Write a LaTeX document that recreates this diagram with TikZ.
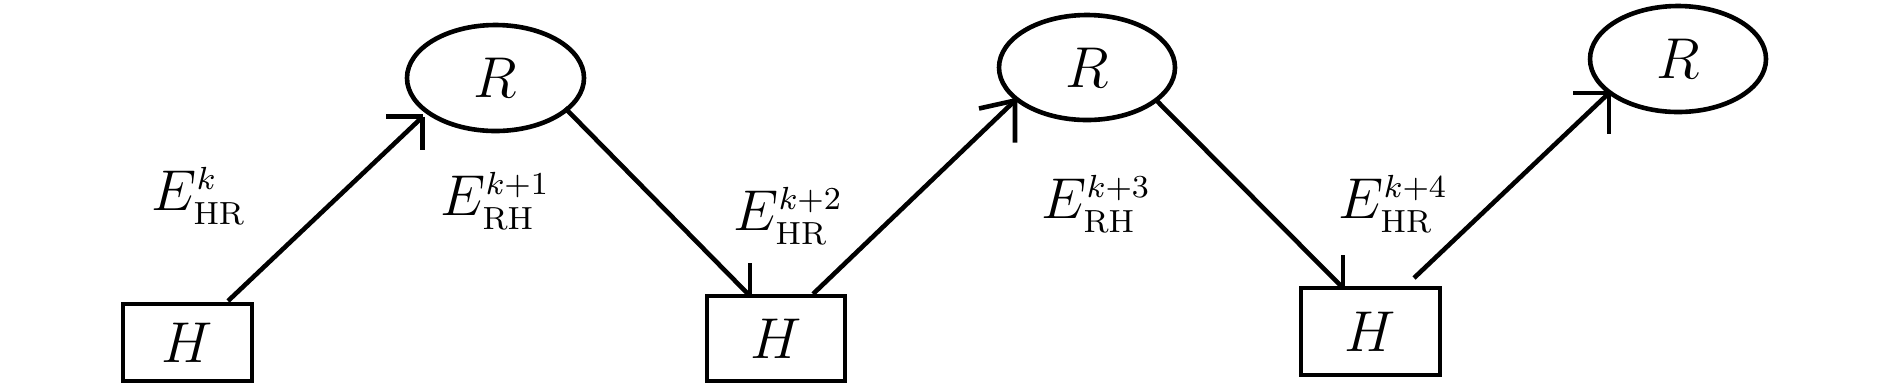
\documentclass[tikz,border=0pt]{standalone}
\usetikzlibrary{shapes.geometric,calc}
\DeclareMathSizes{14.6}{14.6}{8}{6}
\begin{document}
\begin{tikzpicture}[x=0.25pt,y=-0.25pt,
  every node/.style={font=\fontsize{14.6}{17}\selectfont},
  hbox/.style={draw,rectangle,line width=1.15pt,inner sep=0pt},
  rnode/.style={draw,ellipse,line width=1.15pt,inner sep=0pt,minimum width=44.25pt,minimum height=26.5pt},
  conn/.style={line width=1.15pt},
  lab/.style={inner sep=0pt,anchor=base west}]
\useasboundingbox (0,0) rectangle (1890,388);
% H nodes
\node[hbox,minimum width=32.25pt,minimum height=19.25pt] (H1) at (187.5,342.5) {$H$};
\node[hbox,minimum width=34.5pt,minimum height=21.25pt] (H2) at (776,338.5) {$H$};
\node[hbox,minimum width=34.75pt,minimum height=21.75pt] (H3) at (1370.5,331.5) {$H$};
% R nodes
\node[rnode] (R1) at (495.5,78) {$R$};
\node[rnode,minimum width=44pt,minimum height=26.25pt] (R2) at (1087,67.5) {$R$};
\node[rnode,minimum width=44pt] (R3) at (1678,59) {$R$};
% labels
\node[lab] (L1) at (151,210) {$E^{k}_{\mathrm{HR}}$};
\node[lab] (L2) at (440,215) {$E^{k+1}_{\mathrm{RH}}$};
\node[lab] (L3) at (733,230) {$E^{k+2}_{\mathrm{HR}}$};
\node[lab] (L4) at (1041,218) {$E^{k+3}_{\mathrm{RH}}$};
\node[lab] (L5) at (1338,218) {$E^{k+4}_{\mathrm{HR}}$};
% connectors
\draw[conn] ([shift={(40.5,-41.5)}]H1.center) -- ([shift={(-72.8,38.7)}]R1.center) coordinate (t1);
\draw[conn] (t1) -- ++(-37,0) (t1) -- ++(0,33);
\draw[conn] ([shift={(69.5,30)}]R1.center) -- ([shift={(-26,-42.5)}]H2.center) coordinate (t2);
\draw[conn] (t2) -- ++(0,-33) (t2) -- ++(-33,0);
\draw[conn] ([shift={(37,-44.5)}]H2.center) -- ([shift={(-72,33)}]R2.center) coordinate (t3);
\draw[conn] (t3) -- ++(-36,8) (t3) -- ++(0,42);
\draw[conn] ([shift={(70,33.5)}]R2.center) -- ([shift={(-27.5,-43.5)}]H3.center) coordinate (t4);
\draw[conn] (t4) -- ++(0,-33) (t4) -- ++(-33,0);
\draw[conn] ([shift={(43.5,-53.5)}]H3.center) -- ([shift={(-69,34)}]R3.center) coordinate (t5);
\draw[conn] (t5) -- ++(-36,0) (t5) -- ++(0,41);
\end{tikzpicture}
\end{document}
